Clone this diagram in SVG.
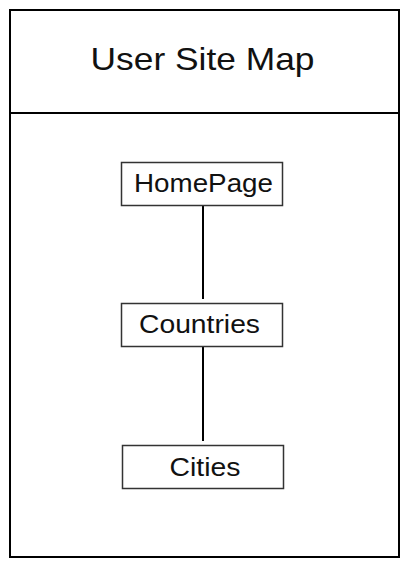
<svg xmlns="http://www.w3.org/2000/svg" width="409" height="567" viewBox="0 0 409 567">
<style>
.frame{fill:#fff;stroke:#000;stroke-width:2}
.node rect{fill:#fff;stroke:#333;stroke-width:1.5}
.node text{font-family:"Liberation Sans",Arial,sans-serif;font-size:25px;fill:#111;text-anchor:middle}
.conn line{stroke:#000;stroke-width:2}
.title{font-family:"Liberation Sans",Arial,sans-serif;font-size:32px;fill:#111;text-anchor:middle}
</style>
<rect width="409" height="567" fill="#fff"/>
<g id="frame">
<rect class="frame" x="10" y="10" width="389" height="547"/>
<line x1="10" y1="113" x2="399" y2="113" stroke="#000" stroke-width="2"/>
<text class="title" x="202.5" y="70" textLength="224" lengthAdjust="spacingAndGlyphs">User Site Map</text>
</g>
<g id="connectors" class="conn">
<line x1="203" y1="206" x2="203" y2="299"/>
<line x1="203" y1="347" x2="203" y2="441"/>
</g>
<g id="homepage" class="node">
<rect x="121.5" y="162.5" width="161" height="43"/>
<text x="203.5" y="192" textLength="139" lengthAdjust="spacingAndGlyphs">HomePage</text>
</g>
<g id="countries" class="node">
<rect x="121.5" y="303.5" width="161" height="43"/>
<text x="199.5" y="333" textLength="121" lengthAdjust="spacingAndGlyphs">Countries</text>
</g>
<g id="cities" class="node">
<rect x="122.5" y="445.5" width="161" height="43"/>
<text x="205" y="476" textLength="71" lengthAdjust="spacingAndGlyphs">Cities</text>
</g>
</svg>
